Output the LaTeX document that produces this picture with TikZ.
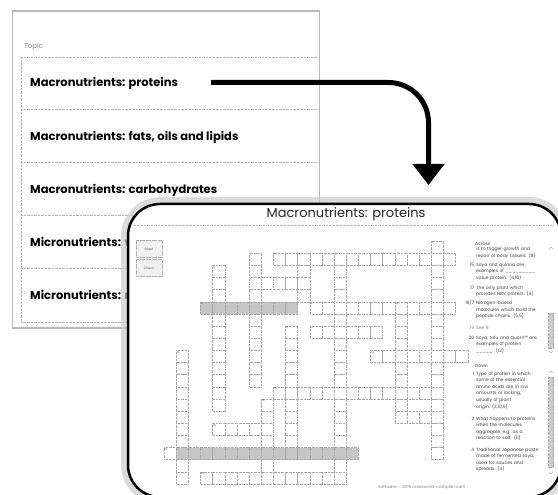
\documentclass[tikz,border=0pt]{standalone}
\usepackage{fontspec}
\setmainfont{Poppins}
\usepackage{tikz}
\usetikzlibrary{arrows.meta}

\begin{document}
\begin{tikzpicture}[x=1pt,y=-1pt,
	topic/.style={anchor=base west,inner sep=0pt,font=\bfseries\fontsize{11.5}{13}\selectfont},
	rowline/.style={gray!60,line width=0.5pt,dash pattern=on 0.7pt off 0.7pt},
	cell/.style={draw=gray!70,line width=0.5pt,dash pattern=on 0.7pt off 0.7pt,fill=white},
	shadecell/.style={cell,fill=gray!45},
	cellnum/.style={anchor=north west,inner sep=0.5pt,font=\fontsize{2.8}{3}\selectfont,text=gray!70!black},
	button/.style={draw=gray!60,dash pattern=on 0.6pt off 0.6pt,fill=gray!12,minimum width=26pt,minimum height=17pt,inner sep=0pt,font=\fontsize{3.2}{4}\selectfont,text=gray!70!black},
	cluehead/.style={anchor=base west,inner sep=0pt,font=\fontsize{4.5}{6.6}\selectfont,text=black!75},
	clue/.style={anchor=base west,inner sep=0pt,text width=72pt,align=left,font=\fontsize{4.5}{6.6}\selectfont,text=black!75},
	cluenum/.style={anchor=base east,inner sep=0pt,font=\fontsize{4.5}{6.6}\selectfont,text=black!75},
	chevron/.style={gray!60,line width=0.4pt}]
	\useasboundingbox (0,0) rectangle (558,495);
	\clip (0,0) rectangle (558,495);
	% topic list behind
	\draw[gray!55,line width=1.6pt] (12.5,11) rectangle (319.5,328);
	\node[anchor=base west,inner sep=0pt,font=\fontsize{7}{8}\selectfont,text=gray] (topichead) at (24,48.5) {Topic};
	\foreach \yy in {57,109.5,162.5,215.5,268.5,322}
		\draw[rowline] (21,\yy) -- (317,\yy);
	\draw[rowline] (21,57) -- (21,322);
	\node[topic] (proteins) at (30,87) {Macronutrients: proteins};
	\node[topic] (fats) at (30,140.5) {Macronutrients: fats, oils and lipids};
	\node[topic] (carbs) at (30,193.5) {Macronutrients: carbohydrates};
	\node[topic] (vitamins) at (30,246.5) {Micronutrients: v};
	\node[topic] (minerals) at (30,299.5) {Micronutrients: m};

	\coordinate (arrowstart) at (211,82.5);
	\coordinate (arrowend) at (428.5,185);
	\draw[line width=5pt,rounded corners=40pt,-{Triangle[width=31pt,length=21pt]}] (arrowstart) -| (arrowend);

	% puzzle window
	\draw[gray!40,draw opacity=0.7,line width=14pt,rounded corners=32pt] (128,204) rectangle (561,497);
	\draw[fill=white,line width=2.5pt,rounded corners=32pt] (128,204) rectangle (561,497);
	\node[anchor=base,inner sep=0pt,font=\fontsize{13}{15}\selectfont,text=black!85] (title) at (346,218) {Macronutrients: proteins};
	\draw[rowline] (134,225) -- (553,225);
	\node[button] (reset) at (149,249) {Reset};
	\node[button] (check) at (149,268) {Check};

	\begin{scope}[shift={(164,241)},x=12.15pt,y=-12.15pt]
		\foreach \cc/\rr/\nn in {22/0/18,7/1/11,11/1/4,14/1/19,4/2/12,19/5/10,10/7/11,1/9/11,8/13/7}
			\foreach \kk in {1,...,\nn}
				\draw[cell] (\cc,\rr+\kk-1) rectangle ++(1,1);
		\foreach \rr/\cc/\nn in {1/9/15,3/7/5,5/12/12,7/12/6,9/17/8,12/9/14,14/19/4,15/4/5,19/3/12}
			\foreach \kk in {1,...,\nn}
				\draw[cell] (\cc+\kk-1,\rr) rectangle ++(1,1);
		\draw[cell] (0,17) rectangle ++(1,1);
		\foreach \rr/\cc/\nn in {5/3/8,17/1/15}
			\foreach \kk in {1,...,\nn}
				\draw[shadecell] (\cc+\kk-1,\rr) rectangle ++(1,1);
		\foreach \nn/\cc/\rr in {1/22/0,2/7/1,3/9/1,4/11/1,5/14/1,6/4/2,7/7/3,8/3/5,9/12/5,10/19/5,11/10/7,12/12/7,13/1/9,14/17/9,15/9/12,16/8/13,17/19/14,18/4/15,19/0/17,20/3/19}
			\node[cellnum] (num\nn) at (\cc,\rr) {\nn};
	\end{scope}

	\node[anchor=base west,inner sep=0pt,font=\fontsize{4.2}{5}\selectfont,text=gray] (credit) at (378,488) {Software © 2015 crossword-compiler.com};

	% clues
	\node[cluehead] (across) at (475,246) {Across};
	\node[clue] (a14) at (476,251) {is to trigger growth and\\repair of body tissues. (8)};
	\node[cluenum] (n15) at (474.5,266) {15};
	\node[clue] (a15) at (476,266) {Soya and quinoa are\\examples of \_\_\_\_\_\_\_\_\_\\value protein. (4,10)};
	\node[cluenum] (n17) at (474.5,289) {17};
	\node[clue] (a17) at (476,289) {The only plant which\\provides HBV protein. (4)};
	\node[cluenum] (n18) at (474.5,304.5) {18/7};
	\node[clue] (a18) at (476,304.5) {Nitrogen-based\\molecules which build the\\peptide chains. (5,5)};
	\node[cluenum,text=gray] (n19) at (474.5,329) {19};
	\node[clue,text=gray] (a19) at (476,329) {See 8};
	\node[cluenum] (n20) at (474.5,339) {20};
	\node[clue] (a20) at (476,339) {Soya, tofu and Quorn™ are\\examples of protein\\\_\_\_\_\_. (12)};
	\node[cluehead] (down) at (475,367) {Down};
	\node[cluenum] (d1n) at (474.5,375) {1};
	\node[clue] (d1) at (476,375) {Type of protein in which\\some of the essential\\amino acids are in low\\amounts or lacking,\\usually of plant\\origin. (3,10,5)};
	\node[cluenum] (d2n) at (474.5,420) {2};
	\node[clue] (d2) at (476,420) {What happens to proteins\\when the molecules\\aggregate, e.g. as a\\reaction to salt. (11)};
	\node[cluenum] (d4n) at (474.5,451) {4};
	\node[clue] (d4) at (476,451) {Traditional Japanese paste\\made of fermented soya,\\used for sauces and\\spreads. (4)};

	% scroll bars
	\draw[chevron] (549,249) -- (551,247) -- (553,249);
	\draw[cell,fill=gray!40] (548.5,313) rectangle (553.5,348);
	\draw[chevron] (549,351) -- (551,353) -- (553,351);
	\draw[chevron] (549,373) -- (551,371) -- (553,373);
	\draw[cell,fill=gray!40] (548.5,377) rectangle (553.5,467);
	\draw[chevron] (549,472) -- (551,474) -- (553,472);
\end{tikzpicture}
\end{document}
